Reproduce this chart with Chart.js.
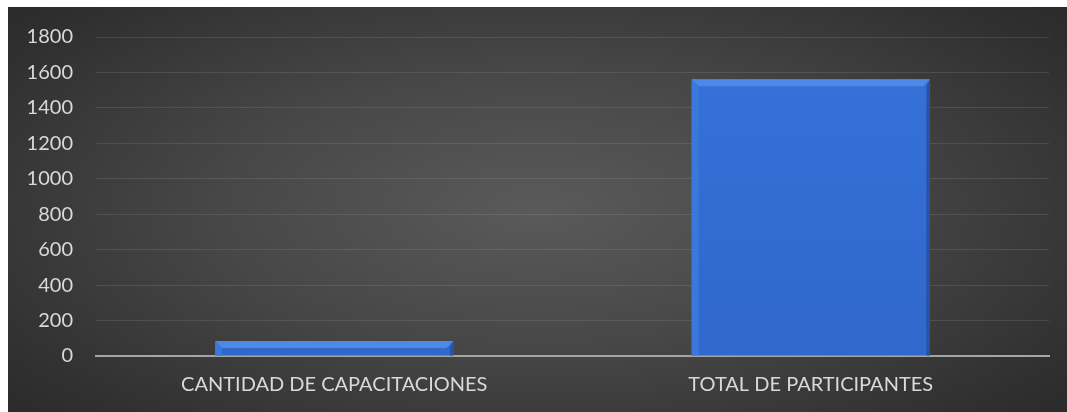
<!DOCTYPE html>
<html>
<head>
<meta charset="utf-8">
<script src="https://cdn.jsdelivr.net/npm/chart.js@4/dist/chart.umd.min.js"></script>
<style>
    html, body { margin: 0; padding: 0; background: #ffffff; }
    #wrap {
        position: absolute;
        left: 8px;
        top: 7px;
        width: 1059px;
        height: 405px;
        background: radial-gradient(ellipse 75% 85% at 50% 50%, #5a5a5a 0%, #474747 40%, #2f2f2f 80%, #262626 100%);
    }
</style>
</head>
<body>
<div id="wrap"><canvas id="chart"></canvas></div>
<script>
const categories = ["CANTIDAD DE CAPACITACIONES", "TOTAL DE PARTICIPANTES"];
const values = [85, 1562];
const yTicks = [0, 200, 400, 600, 800, 1000, 1200, 1400, 1600, 1800];

// Bevel effect like the office-style bars
const bevelPlugin = {
    id: "bevel",
    afterDatasetsDraw(chart) {
        const ctx = chart.ctx;
        const meta = chart.getDatasetMeta(0);
        meta.data.forEach((bar) => {
            const left = bar.x - bar.width / 2;
            const right = bar.x + bar.width / 2;
            const top = bar.y;
            const bottom = bar.base;
            const b = Math.min(7, (bottom - top) / 2);
            ctx.save();
            // top edge
            ctx.fillStyle = "#4d8ae8";
            ctx.beginPath();
            ctx.moveTo(left, top);
            ctx.lineTo(right, top);
            ctx.lineTo(right - b, top + b);
            ctx.lineTo(left + b, top + b);
            ctx.closePath();
            ctx.fill();
            // left edge
            ctx.fillStyle = "#3b78dd";
            ctx.beginPath();
            ctx.moveTo(left, top);
            ctx.lineTo(left + b, top + b);
            ctx.lineTo(left + b, bottom);
            ctx.lineTo(left, bottom);
            ctx.closePath();
            ctx.fill();
            // right edge
            ctx.fillStyle = "#2553a8";
            ctx.beginPath();
            ctx.moveTo(right, top);
            ctx.lineTo(right - b / 2, top + b);
            ctx.lineTo(right - b / 2, bottom);
            ctx.lineTo(right, bottom);
            ctx.closePath();
            ctx.fill();
            ctx.restore();
        });
    },
};

const ctx = document.getElementById("chart").getContext("2d");
const bodyGrad = ctx.createLinearGradient(0, 0, 0, 405);
bodyGrad.addColorStop(0, "#3673db");
bodyGrad.addColorStop(1, "#2f66c9");

new Chart(ctx, {
    type: "bar",
    data: {
        labels: categories,
        datasets: [{
            data: values,
            backgroundColor: bodyGrad,
            borderWidth: 0,
            barPercentage: 0.5,
            categoryPercentage: 1.0,
        }],
    },
    options: {
        responsive: true,
        maintainAspectRatio: false,
        animation: false,
        layout: {
            padding: { left: 0, right: 18, top: 30, bottom: 0 },
        },
        plugins: {
            legend: { display: false },
            tooltip: { enabled: false },
        },
        scales: {
            x: {
                grid: { display: false, drawTicks: false },
                border: { display: true, color: "#a6a6a6", width: 2 },
                ticks: {
                    color: "#d9d9d9",
                    padding: 17,
                    maxRotation: 0,
                    font: { family: "Lato", size: 20 },
                },
                afterFit: (axis) => {
                    axis.height = 56;
                    axis.paddingLeft = 0;
                    axis.paddingRight = 0;
                },
            },
            y: {
                min: 0,
                max: 1800,
                afterBuildTicks: (axis) => {
                    axis.ticks = yTicks.map((v) => ({ value: v }));
                },
                grid: {
                    drawTicks: false,
                    color: (c) => (c.tick && c.tick.value === 0 ? "rgba(0,0,0,0)" : "rgba(255,255,255,0.1)"),
                    lineWidth: 1,
                },
                border: { display: false },
                ticks: {
                    color: "#d9d9d9",
                    padding: 23,
                    font: { family: "Lato", size: 20 },
                    callback: (v) => String(v),
                },
                afterFit: (axis) => {
                    axis.width = 88;
                    axis.paddingTop = 0;
                    axis.paddingBottom = 0;
                },
            },
        },
    },
    plugins: [bevelPlugin],
});
</script>
</body>
</html>
